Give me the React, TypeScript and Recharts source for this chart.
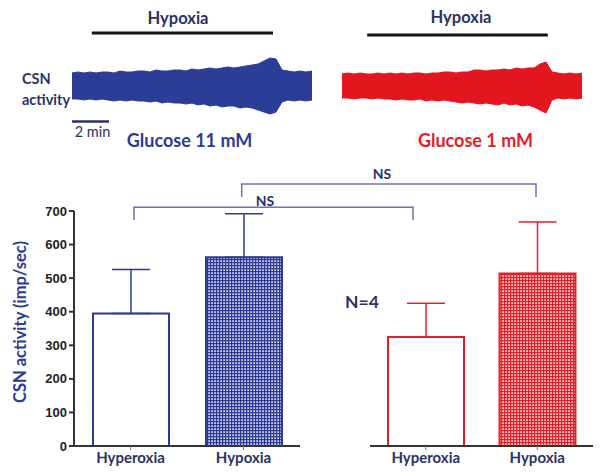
import {
  AreaChart,
  Area,
  BarChart,
  Bar,
  Cell,
  ErrorBar,
  XAxis,
  YAxis,
  ReferenceLine,
} from "recharts";

// CSN bar data (imp/sec), mean and SEM
const conditions = ["Hyperoxia", "Hypoxia"];
const glucose11Mean = [395, 562];
const glucose11Sem = [131, 130];
const glucose1Mean = [325, 514];
const glucose1Sem = [100, 153];
const yTicks = [0, 100, 200, 300, 400, 500, 600, 700];

// raw CSN trace envelopes (upper / lower amplitude, arbitrary units), sampled every 20 s
const trace11Upper = [13, 14, 13, 14, 13, 14, 14, 13, 15, 14, 14, 15, 15, 14, 16, 15, 15, 16, 16, 15, 17, 16, 17, 18, 17, 18, 19, 18, 19, 20, 21, 22, 25, 28, 27, 16, 15, 14, 15, 14, 15];
const trace11Lower = [13, 13, 14, 13, 14, 13, 14, 15, 14, 15, 14, 15, 15, 16, 15, 17, 16, 17, 17, 18, 17, 19, 18, 20, 19, 21, 20, 20, 22, 21, 22, 24, 26, 28, 26, 16, 14, 15, 14, 15, 14];
const trace1Upper = [12, 13, 12, 13, 12, 12, 13, 12, 13, 12, 13, 12, 13, 13, 12, 13, 13, 14, 14, 13, 14, 14, 16, 16, 15, 16, 16, 17, 16, 18, 17, 18, 18, 22, 24, 14, 13, 12, 13, 12, 13];
const trace1Lower = [12, 12, 13, 12, 12, 13, 12, 13, 13, 14, 13, 14, 14, 13, 15, 14, 15, 14, 15, 16, 17, 16, 17, 18, 17, 18, 19, 17, 19, 18, 20, 19, 21, 24, 27, 14, 12, 13, 12, 13, 12];
const hypoxia11 = [66, 670]; // s
const hypoxia1 = [84, 686];

const NAVY = "#2b3166";
const BLUE = "#2e3a93";
const RED = "#e3202a";
const BRACKET = "#6e72b4";
const CAL = "Lato, 'Open Sans', sans-serif";

const bars11 = conditions.map((c, i) => ({
  name: c,
  mean: glucose11Mean[i],
  err: [0, glucose11Sem[i]],
}));
const bars1 = conditions.map((c, i) => ({
  name: c,
  mean: glucose1Mean[i],
  err: [0, glucose1Sem[i]],
}));
const toTrace = (up: number[], lo: number[]) =>
  up.map((u, i) => ({ t: i * 20, range: [-lo[i], u] }));

function Trace({ data, color, hyp, lineY, left }: any) {
  return (
    <div style={{ position: "absolute", left, top: 0 }}>
      <AreaChart width={240} height={120} data={data} margin={{ top: 0, right: 0, bottom: 0, left: 0 }}>
        <XAxis type="number" dataKey="t" domain={[0, 800]} hide />
        <YAxis type="number" domain={[-34, 86]} hide />
        <Area
          dataKey="range"
          type="linear"
          stroke={color}
          strokeWidth={1}
          fill={color}
          fillOpacity={1}
          isAnimationActive={false}
        />
        <ReferenceLine
          segment={[
            { x: hyp[0], y: lineY },
            { x: hyp[1], y: lineY },
          ]}
          stroke="#111"
          strokeWidth={3}
          ifOverflow="visible"
        />
      </AreaChart>
    </div>
  );
}

function Patterns() {
  return (
    <defs>
      <pattern id="chkBlue" width="3" height="3" patternUnits="userSpaceOnUse">
        <rect width="3" height="3" fill={BLUE} />
        <rect x="1.2" y="1.2" width="1.8" height="1.8" fill="#c4c8ea" />
      </pattern>
      <pattern id="chkRed" width="3" height="3" patternUnits="userSpaceOnUse">
        <rect width="3" height="3" fill={RED} />
        <rect x="1.2" y="1.2" width="1.8" height="1.8" fill="#f7c4c6" />
      </pattern>
    </defs>
  );
}

const xTick = { fill: NAVY, fontSize: 15, fontWeight: 700, fontFamily: CAL };

export default function App() {
  return (
    <div style={{ position: "absolute", left: 0, top: 0, width: 604, height: 476, background: "#fff" }}>
      <Trace data={toTrace(trace11Upper, trace11Lower)} color="#2c3d98" hyp={hypoxia11} lineY={53} left={72} />
      <Trace data={toTrace(trace1Upper, trace1Lower)} color="#e3161f" hyp={hypoxia1} lineY={51} left={342} />

      <div style={{ position: "absolute", left: 0, top: 160 }}>
        <BarChart width={310} height={316} data={bars11} margin={{ top: 51, right: 10, bottom: 0, left: 0 }}>
          <Patterns />
          <XAxis
            dataKey="name"
            height={30}
            axisLine={{ stroke: "#333", strokeWidth: 2 }}
            tickLine={{ stroke: "#777" }}
            tickSize={4}
            tick={xTick}
          />
          <YAxis
            width={74}
            domain={[0, 700]}
            ticks={yTicks}
            interval={0}
            axisLine={{ stroke: "#333", strokeWidth: 2 }}
            tickLine={{ stroke: "#333", strokeWidth: 2 }}
            tickSize={5}
            tick={{ fill: "#222", fontSize: 13, fontWeight: 700, fontFamily: "'Liberation Sans', Arial, sans-serif" }}
          />
          <Bar dataKey="mean" barSize={76} stroke={BLUE} strokeWidth={2} isAnimationActive={false}>
            <Cell fill="#fff" />
            <Cell fill="url(#chkBlue)" />
            <ErrorBar dataKey="err" width={19} stroke={BLUE} strokeWidth={1.5} />
          </Bar>
        </BarChart>
      </div>

      <div style={{ position: "absolute", left: 360, top: 160 }}>
        <BarChart width={244} height={316} data={bars1} margin={{ top: 51, right: 11, bottom: 0, left: 10 }}>
          <Patterns />
          <XAxis
            dataKey="name"
            height={30}
            axisLine={{ stroke: "#333", strokeWidth: 2 }}
            tickLine={{ stroke: "#777" }}
            tickSize={4}
            tick={xTick}
          />
          <YAxis hide domain={[0, 700]} />
          <Bar dataKey="mean" barSize={76} stroke={RED} strokeWidth={2} isAnimationActive={false}>
            <Cell fill="#fff" />
            <Cell fill="url(#chkRed)" />
            <ErrorBar dataKey="err" width={19} stroke={RED} strokeWidth={1.5} />
          </Bar>
        </BarChart>
      </div>

      <svg width={604} height={476} style={{ position: "absolute", left: 0, top: 0, pointerEvents: "none" }}>
        <g fontFamily={CAL} fontWeight={700}>
          <text x={178} y={23.5} textAnchor="middle" fontSize={16.5} fill={NAVY}>Hypoxia</text>
          <text x={461} y={23} textAnchor="middle" fontSize={16.5} fill={NAVY}>Hypoxia</text>
          <text x={22} y={84} fontSize={14.5} fill={NAVY}>CSN</text>
          <text x={22} y={105} fontSize={14.5} fill={NAVY}>activity</text>
          <text x={189.5} y={146.5} textAnchor="middle" fontSize={18} fill={BLUE}>Glucose 11 mM</text>
          <text x={475.5} y={146.5} textAnchor="middle" fontSize={18} fill={RED}>Glucose 1 mM</text>
          <text x={265} y={206} textAnchor="middle" fontSize={14} fill={NAVY}>NS</text>
          <text x={382} y={178.5} textAnchor="middle" fontSize={14} fill={NAVY}>NS</text>
          <text x={362} y={307.5} textAnchor="middle" fontSize={17.5} fill={NAVY}>N=4</text>
          <text
            x={20}
            y={322}
            textAnchor="middle"
            dominantBaseline="central"
            fontSize={16.5}
            fill={BLUE}
            transform="rotate(-90 20 322)"
          >
            CSN activity (imp/sec)
          </text>
        </g>
        <line x1={72} y1={121.5} x2={109} y2={121.5} stroke={NAVY} strokeWidth={2.5} />
        <text x={92.5} y={137} textAnchor="middle" fontSize={14.5} fontFamily={CAL} fill={NAVY}>2 min</text>
        <polyline points="134,220 134,207.3 413,207.3 413,220" fill="none" stroke={BRACKET} strokeWidth={1.5} />
        <polyline points="241.7,197 241.7,184 536,184 536,197" fill="none" stroke={BRACKET} strokeWidth={1.5} />
      </svg>
    </div>
  );
}
